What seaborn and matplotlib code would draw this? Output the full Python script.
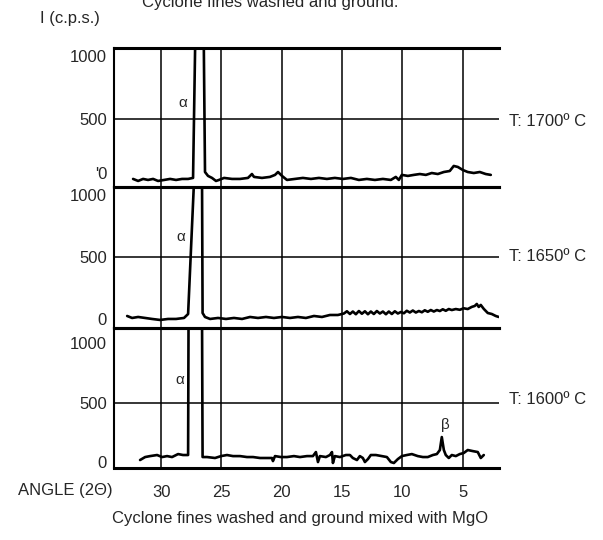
import matplotlib
matplotlib.use("Agg")
import matplotlib.pyplot as plt
import seaborn as sns
import pandas as pd

# ---- data ----
angle_1700 = [32.32, 31.90, 31.49, 31.08, 30.66, 30.25, 29.75, 29.25, 28.76, 28.26, 27.76, 27.35,
              27.14, 26.48, 26.36, 26.11, 25.78, 25.45, 25.20, 24.78, 24.12, 23.46, 22.80, 22.47,
              22.30, 21.64, 20.98, 20.56, 20.31, 19.98, 19.57, 18.91, 18.25, 17.58, 16.92, 16.26,
              15.60, 14.93, 14.27, 13.61, 12.95, 12.28, 11.62, 10.96, 10.55, 10.30, 10.05, 9.55,
              9.06, 8.56, 8.06, 7.57, 7.07, 6.57, 6.08, 5.75, 5.41, 5.00, 4.59, 4.09, 3.59, 3.10, 2.68]
cps_1700 = [24, 8, 24, 16, 24, 8, 16, 24, 16, 24, 24, 32,
            1300, 1300, 79, 48, 32, 8, 16, 32, 24, 24, 32, 63,
            40, 32, 40, 56, 79, 48, 16, 24, 32, 24, 32, 24,
            32, 24, 32, 16, 24, 16, 24, 16, 40, 16, 56, 48,
            56, 63, 56, 71, 63, 79, 87, 127, 119, 95, 79, 71, 79, 63, 56]

angle_1650 = [32.81, 32.40, 31.90, 31.32, 30.75, 30.08, 29.42, 28.76, 28.10, 27.76, 27.23, 26.61,
              26.56, 26.36, 25.94, 25.28, 24.62, 23.96, 23.29, 22.63, 21.97, 21.31, 20.65, 19.98,
              19.32, 18.66, 18.00, 17.33, 16.67, 16.01, 15.35, 14.85, 14.60, 14.35, 14.11, 13.86,
              13.61, 13.36, 13.11, 12.86, 12.62, 12.37, 12.12, 11.87, 11.62, 11.37, 11.13, 10.88,
              10.63, 10.38, 10.13, 9.88, 9.64, 9.39, 9.14, 8.89, 8.64, 8.39, 8.15, 7.90,
              7.65, 7.40, 7.15, 6.90, 6.66, 6.41, 6.16, 5.91, 5.58, 5.25, 4.92, 4.59,
              4.26, 4.01, 3.84, 3.68, 3.51, 3.26, 2.93, 2.60, 2.27, 2.02]
cps_1650 = [24, 8, 16, 8, 0, -8, 0, 0, 8, 40, 1200, 1200,
            48, 16, 0, 8, 0, 8, 0, 16, 8, 16, 8, 16,
            8, 16, 8, 24, 16, 32, 32, 44, 62, 40, 60, 38,
            64, 42, 62, 38, 60, 40, 64, 44, 60, 38, 60, 40,
            62, 44, 56, 46, 66, 52, 68, 52, 64, 54, 70, 58,
            72, 60, 72, 64, 78, 66, 80, 72, 80, 74, 86, 80,
            97, 105, 121, 97, 113, 81, 48, 40, 24, 16]

angle_1600 = [31.74, 31.32, 30.91, 30.33, 29.92, 29.50, 29.09, 28.59, 28.18, 27.76, 27.72, 26.61,
              26.56, 26.19, 25.53, 25.03, 24.54, 24.04, 23.46, 22.88, 22.38, 21.80, 21.23, 20.81,
              20.73, 20.56, 20.07, 19.57, 18.99, 18.49, 17.91, 17.42, 17.17, 17.00, 16.84, 16.34,
              16.01, 15.84, 15.76, 15.60, 15.18, 14.69, 14.35, 14.11, 13.77, 13.53, 13.28, 13.11,
              12.86, 12.62, 12.20, 11.71, 11.29, 10.96, 10.71, 10.38, 10.05, 9.64, 9.22, 8.73,
              8.31, 7.90, 7.48, 7.15, 6.90, 6.74, 6.57, 6.41, 6.16, 5.91, 5.58, 5.25,
              4.92, 4.59, 4.17, 3.76, 3.51, 3.26]
cps_1600 = [17, 42, 50, 59, 42, 50, 42, 67, 59, 59, 1300, 1300,
            42, 42, 34, 50, 59, 50, 50, 42, 42, 34, 34, 34,
            8, 50, 42, 42, 50, 42, 50, 50, 84, 0, 50, 42,
            59, 84, -8, 50, 42, 59, 59, 34, 17, 50, 34, 0,
            25, 59, 59, 50, 42, 0, -8, 25, 50, 59, 67, 50,
            42, 42, 59, 67, 101, 210, 101, 59, 34, 59, 50, 67,
            76, 101, 92, 84, 34, 59]

temperatures = ["T: 1700º C", "T: 1650º C", "T: 1600º C"]
x_ticks = [30, 25, 20, 15, 10, 5]
y_ticks = [0, 500, 1000]
y_ticklabels = [["'0", "500", "1000"], ["0", "500", "1000"], ["0", "500", "1000"]]

series = [(angle_1700, cps_1700), (angle_1650, cps_1650), (angle_1600, cps_1600)]

# ---- figure ----
sns.set_style("white")
plt.rcParams["font.family"] = ["Liberation Sans", "DejaVu Sans"]

W, H = 603, 540
fig = plt.figure(figsize=(W / 100, H / 100), dpi=100)

def fx(px):
    return px / W

def fy(py):
    return 1 - py / H

# panel pixel extents (top, bottom) and y limits
panels = [(48, 187, -40, 1063), (187, 328, -73, 1065), (328, 468, -50, 1126)]
left_px, right_px = 114, 499
xlim = (33.9, 2.0)
fs = 12

axes = []
for i, (top, bot, ymin, ymax) in enumerate(panels):
    ax = fig.add_axes([fx(left_px), fy(bot), fx(right_px) - fx(left_px), (bot - top) / H])
    ang, cps = series[i]
    df = pd.DataFrame({"angle": ang, "cps": cps})
    sns.lineplot(data=df, x="angle", y="cps", ax=ax, sort=False, estimator=None,
                 color="black", linewidth=1.9)
    ax.set_xlim(*xlim)
    ax.set_ylim(ymin, ymax)
    for xt in x_ticks:
        ax.axvline(xt, color="black", linewidth=1.1, zorder=1)
    ax.axhline(500, color="black", linewidth=1.1, zorder=1)
    ax.set_yticks(y_ticks)
    ax.set_yticklabels(y_ticklabels[i], fontsize=fs)
    ax.tick_params(axis="y", length=0, pad=5)
    if i == 0:
        ax.get_yticklabels()[0].set_va("bottom")
    ax.set_xticks(x_ticks)
    if i < 2:
        ax.set_xticklabels([])
        ax.tick_params(axis="x", length=0)
    else:
        ax.set_xticklabels([str(t) for t in x_ticks], fontsize=fs)
        ax.tick_params(axis="x", length=0, pad=12)
    ax.set_xlabel("")
    ax.set_ylabel("")
    ax.spines["right"].set_visible(False)
    ax.spines["top"].set_linewidth(2.2)
    ax.spines["bottom"].set_linewidth(2.2)
    ax.spines["left"].set_linewidth(1.5)
    for s in ax.spines.values():
        s.set_color("black")
    ax.patch.set_alpha(0)
    axes.append(ax)

# right-side temperature labels
for txt, py in zip(temperatures, [121, 257, 400]):
    fig.text(fx(509), fy(py), txt, fontsize=fs, va="center", ha="left")

# alpha / beta labels
fig.text(fx(183), fy(103), "α", fontsize=11, va="center", ha="center")
fig.text(fx(181), fy(237), "α", fontsize=11, va="center", ha="center")
fig.text(fx(180), fy(380), "α", fontsize=11, va="center", ha="center")
fig.text(fx(445), fy(425), "β", fontsize=11, va="center", ha="center")

fig.text(fx(40), fy(19), "I (c.p.s.)", fontsize=fs, va="center", ha="left")
fig.text(fx(270), fy(2), "Cyclone fines washed and ground.", fontsize=fs, va="center", ha="center")
fig.text(fx(18), fy(491), "ANGLE (2Θ)", fontsize=fs, va="center", ha="left")
fig.text(fx(300), fy(518), "Cyclone fines washed and ground mixed with MgO", fontsize=fs,
         va="center", ha="center")

fig.savefig("out.png", dpi=100, facecolor="white")
